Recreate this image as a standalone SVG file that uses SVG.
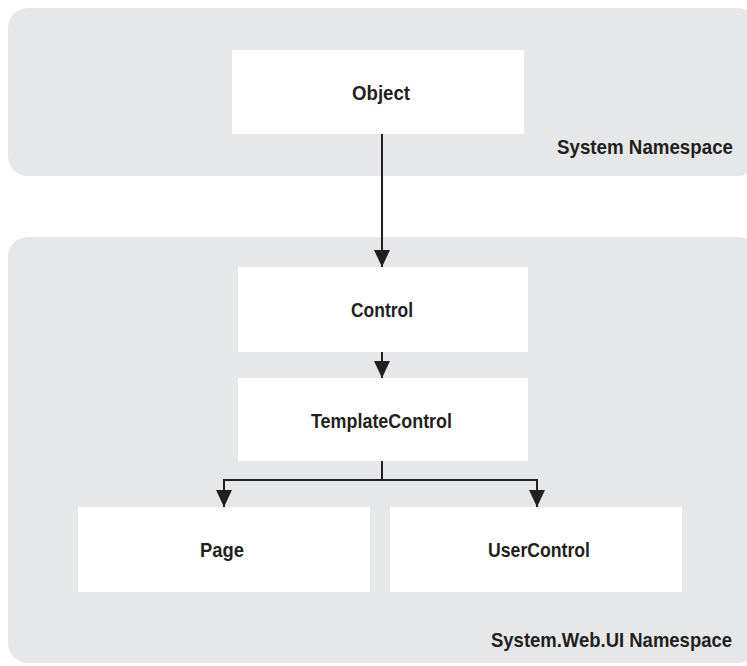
<svg xmlns="http://www.w3.org/2000/svg" width="747" height="666" viewBox="0 0 747 666">
  <defs>
    <style>
      .panel { fill: #e6e7e8; }
      .box { fill: #ffffff; }
      .lbl { font-family: "Liberation Sans", Arial, sans-serif; font-size: 21px; font-weight: bold; fill: #231f20; text-anchor: middle; }
      .ns { font-family: "Liberation Sans", Arial, sans-serif; font-size: 21px; font-weight: bold; fill: #231f20; text-anchor: end; }
      .conn { fill: none; stroke: #231f20; stroke-width: 2; }
    </style>
    <marker id="arrow" markerUnits="userSpaceOnUse" viewBox="0 0 17 16" refX="17" refY="8" markerWidth="17" markerHeight="16" orient="auto">
      <path d="M0,0 L17,8 L0,16 Z" fill="#231f20"/>
    </marker>
  </defs>

  <g id="system-namespace">
    <rect class="panel" x="8" y="8" width="750" height="168" rx="20" ry="20"/>
    <text class="ns" x="733" y="154" textLength="176" lengthAdjust="spacingAndGlyphs">System Namespace</text>
  </g>

  <g id="web-ui-namespace">
    <rect class="panel" x="8" y="237" width="750" height="426" rx="20" ry="20"/>
    <text class="ns" x="732" y="647" textLength="241" lengthAdjust="spacingAndGlyphs">System.Web.UI Namespace</text>
  </g>

  <g id="connectors">
    <line class="conn" x1="382" y1="134" x2="382" y2="267" marker-end="url(#arrow)"/>
    <line class="conn" x1="382" y1="352" x2="382" y2="378" marker-end="url(#arrow)"/>
    <polyline class="conn" points="382,461 382,480 224,480 224,507" marker-end="url(#arrow)"/>
    <polyline class="conn" points="382,480 537,480 537,507" marker-end="url(#arrow)"/>
  </g>

  <g id="object">
    <rect class="box" x="232" y="50" width="292" height="84"/>
    <text class="lbl" x="381" y="100" textLength="58" lengthAdjust="spacingAndGlyphs">Object</text>
  </g>

  <g id="control">
    <rect class="box" x="238" y="267" width="290" height="85"/>
    <text class="lbl" x="382" y="317" textLength="62" lengthAdjust="spacingAndGlyphs">Control</text>
  </g>

  <g id="template-control">
    <rect class="box" x="238" y="378" width="290" height="83"/>
    <text class="lbl" x="381.5" y="428" textLength="141" lengthAdjust="spacingAndGlyphs">TemplateControl</text>
  </g>

  <g id="page">
    <rect class="box" x="78" y="507" width="292" height="85"/>
    <text class="lbl" x="222" y="557" textLength="44" lengthAdjust="spacingAndGlyphs">Page</text>
  </g>

  <g id="user-control">
    <rect class="box" x="390" y="507" width="292" height="85"/>
    <text class="lbl" x="539" y="557" textLength="102" lengthAdjust="spacingAndGlyphs">UserControl</text>
  </g>
</svg>
